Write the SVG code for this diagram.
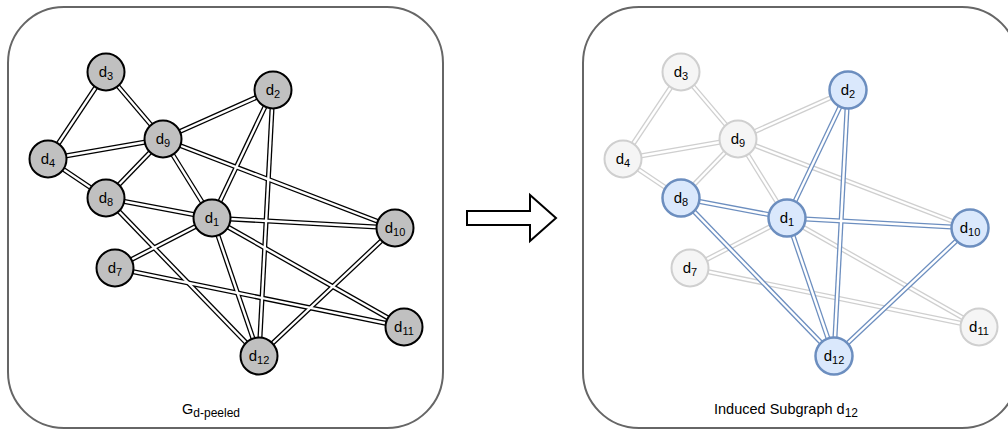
<svg xmlns="http://www.w3.org/2000/svg" width="1008" height="430" viewBox="0 0 1008 430">
<style>
.panel{fill:#fff;stroke:#666;stroke-width:2}
.eo{stroke:#000;stroke-width:5;fill:none}
.ei{stroke:#fff;stroke-width:2.4;fill:none}
.go{stroke:#cfcfcf;stroke-width:5;fill:none}
.bo{stroke:#6c8ebf;stroke-width:5;fill:none}
.nk{fill:#c0c0c0;stroke:#000;stroke-width:2}
.ng{fill:#f5f5f5;stroke:#cfcfcf;stroke-width:2}
.nb{fill:#dae8fc;stroke:#6c8ebf;stroke-width:2.5}
text{font-family:"Liberation Sans",Arial,Helvetica,sans-serif;fill:#000}
.lbl{font-size:15px;text-anchor:middle}
.sub{font-size:11px}
.cap{font-size:14.5px;text-anchor:middle}
.csub{font-size:12px}
</style>
<rect class="panel" x="8" y="7" width="435" height="421" rx="56" ry="56"/>
<rect class="panel" x="583" y="7" width="435" height="421" rx="56" ry="56"/>
<g id="connectors">
<g id="left-edges">
<g class="eo">
<line x1="106" y1="72" x2="48" y2="159"/>
<line x1="106" y1="72" x2="163" y2="139"/>
<line x1="163" y1="139" x2="273" y2="90"/>
<line x1="163" y1="139" x2="48" y2="159"/>
<line x1="163" y1="139" x2="106" y2="198"/>
<line x1="163" y1="139" x2="212" y2="218"/>
<line x1="163" y1="139" x2="395" y2="228"/>
<line x1="48" y1="159" x2="106" y2="198"/>
<line x1="273" y1="90" x2="212" y2="218"/>
<line x1="273" y1="90" x2="259" y2="356"/>
<line x1="106" y1="198" x2="212" y2="218"/>
<line x1="106" y1="198" x2="259" y2="356"/>
<line x1="212" y1="218" x2="395" y2="228"/>
<line x1="212" y1="218" x2="115" y2="268"/>
<line x1="212" y1="218" x2="259" y2="356"/>
<line x1="212" y1="218" x2="404" y2="327"/>
<line x1="115" y1="268" x2="404" y2="327"/>
<line x1="395" y1="228" x2="259" y2="356"/>
</g>
<g class="ei">
<line x1="106" y1="72" x2="48" y2="159"/>
<line x1="106" y1="72" x2="163" y2="139"/>
<line x1="163" y1="139" x2="273" y2="90"/>
<line x1="163" y1="139" x2="48" y2="159"/>
<line x1="163" y1="139" x2="106" y2="198"/>
<line x1="163" y1="139" x2="212" y2="218"/>
<line x1="163" y1="139" x2="395" y2="228"/>
<line x1="48" y1="159" x2="106" y2="198"/>
<line x1="273" y1="90" x2="212" y2="218"/>
<line x1="273" y1="90" x2="259" y2="356"/>
<line x1="106" y1="198" x2="212" y2="218"/>
<line x1="106" y1="198" x2="259" y2="356"/>
<line x1="212" y1="218" x2="395" y2="228"/>
<line x1="212" y1="218" x2="115" y2="268"/>
<line x1="212" y1="218" x2="259" y2="356"/>
<line x1="212" y1="218" x2="404" y2="327"/>
<line x1="115" y1="268" x2="404" y2="327"/>
<line x1="395" y1="228" x2="259" y2="356"/>
</g>
</g>
<g id="right-edges-gray">
<g class="go">
<line x1="681" y1="72" x2="623" y2="159"/>
<line x1="681" y1="72" x2="738" y2="139"/>
<line x1="738" y1="139" x2="848" y2="90"/>
<line x1="738" y1="139" x2="623" y2="159"/>
<line x1="738" y1="139" x2="681" y2="198"/>
<line x1="738" y1="139" x2="787" y2="218"/>
<line x1="738" y1="139" x2="970" y2="228"/>
<line x1="623" y1="159" x2="681" y2="198"/>
<line x1="787" y1="218" x2="690" y2="268"/>
<line x1="787" y1="218" x2="979" y2="327"/>
<line x1="690" y1="268" x2="979" y2="327"/>
</g>
<g class="ei">
<line x1="681" y1="72" x2="623" y2="159"/>
<line x1="681" y1="72" x2="738" y2="139"/>
<line x1="738" y1="139" x2="848" y2="90"/>
<line x1="738" y1="139" x2="623" y2="159"/>
<line x1="738" y1="139" x2="681" y2="198"/>
<line x1="738" y1="139" x2="787" y2="218"/>
<line x1="738" y1="139" x2="970" y2="228"/>
<line x1="623" y1="159" x2="681" y2="198"/>
<line x1="787" y1="218" x2="690" y2="268"/>
<line x1="787" y1="218" x2="979" y2="327"/>
<line x1="690" y1="268" x2="979" y2="327"/>
</g>
</g>
<g id="right-edges-blue">
<g class="bo">
<line x1="848" y1="90" x2="787" y2="218"/>
<line x1="848" y1="90" x2="834" y2="356"/>
<line x1="681" y1="198" x2="787" y2="218"/>
<line x1="681" y1="198" x2="834" y2="356"/>
<line x1="787" y1="218" x2="970" y2="228"/>
<line x1="787" y1="218" x2="834" y2="356"/>
<line x1="970" y1="228" x2="834" y2="356"/>
</g>
<g class="ei">
<line x1="848" y1="90" x2="787" y2="218"/>
<line x1="848" y1="90" x2="834" y2="356"/>
<line x1="681" y1="198" x2="787" y2="218"/>
<line x1="681" y1="198" x2="834" y2="356"/>
<line x1="787" y1="218" x2="970" y2="228"/>
<line x1="787" y1="218" x2="834" y2="356"/>
<line x1="970" y1="228" x2="834" y2="356"/>
</g>
</g>
</g>
<g id="left-nodes">
<g id="L-d1"><circle class="nk" cx="212" cy="218" r="18.5"/><text class="lbl" x="212" y="223">d<tspan class="sub" dy="3">1</tspan></text></g>
<g id="L-d2"><circle class="nk" cx="273" cy="90" r="18.5"/><text class="lbl" x="273" y="95">d<tspan class="sub" dy="3">2</tspan></text></g>
<g id="L-d3"><circle class="nk" cx="106" cy="72" r="18.5"/><text class="lbl" x="106" y="77">d<tspan class="sub" dy="3">3</tspan></text></g>
<g id="L-d4"><circle class="nk" cx="48" cy="159" r="18.5"/><text class="lbl" x="48" y="164">d<tspan class="sub" dy="3">4</tspan></text></g>
<g id="L-d7"><circle class="nk" cx="115" cy="268" r="18.5"/><text class="lbl" x="115" y="273">d<tspan class="sub" dy="3">7</tspan></text></g>
<g id="L-d8"><circle class="nk" cx="106" cy="198" r="18.5"/><text class="lbl" x="106" y="203">d<tspan class="sub" dy="3">8</tspan></text></g>
<g id="L-d9"><circle class="nk" cx="163" cy="139" r="18.5"/><text class="lbl" x="163" y="144">d<tspan class="sub" dy="3">9</tspan></text></g>
<g id="L-d10"><circle class="nk" cx="395" cy="228" r="18.5"/><text class="lbl" x="395" y="233">d<tspan class="sub" dy="3">10</tspan></text></g>
<g id="L-d11"><circle class="nk" cx="404" cy="327" r="18.5"/><text class="lbl" x="404" y="332">d<tspan class="sub" dy="3">11</tspan></text></g>
<g id="L-d12"><circle class="nk" cx="259" cy="356" r="18.5"/><text class="lbl" x="259" y="361">d<tspan class="sub" dy="3">12</tspan></text></g>
</g>
<g id="right-nodes">
<g id="R-d1"><circle class="nb" cx="787" cy="218" r="18.5"/><text class="lbl" x="787" y="223">d<tspan class="sub" dy="3">1</tspan></text></g>
<g id="R-d2"><circle class="nb" cx="848" cy="90" r="18.5"/><text class="lbl" x="848" y="95">d<tspan class="sub" dy="3">2</tspan></text></g>
<g id="R-d3"><circle class="ng" cx="681" cy="72" r="18.5"/><text class="lbl" x="681" y="77">d<tspan class="sub" dy="3">3</tspan></text></g>
<g id="R-d4"><circle class="ng" cx="623" cy="159" r="18.5"/><text class="lbl" x="623" y="164">d<tspan class="sub" dy="3">4</tspan></text></g>
<g id="R-d7"><circle class="ng" cx="690" cy="268" r="18.5"/><text class="lbl" x="690" y="273">d<tspan class="sub" dy="3">7</tspan></text></g>
<g id="R-d8"><circle class="nb" cx="681" cy="198" r="18.5"/><text class="lbl" x="681" y="203">d<tspan class="sub" dy="3">8</tspan></text></g>
<g id="R-d9"><circle class="ng" cx="738" cy="139" r="18.5"/><text class="lbl" x="738" y="144">d<tspan class="sub" dy="3">9</tspan></text></g>
<g id="R-d10"><circle class="nb" cx="970" cy="228" r="18.5"/><text class="lbl" x="970" y="233">d<tspan class="sub" dy="3">10</tspan></text></g>
<g id="R-d11"><circle class="ng" cx="979" cy="327" r="18.5"/><text class="lbl" x="979" y="332">d<tspan class="sub" dy="3">11</tspan></text></g>
<g id="R-d12"><circle class="nb" cx="834" cy="356" r="18.5"/><text class="lbl" x="834" y="361">d<tspan class="sub" dy="3">12</tspan></text></g>
</g>
<g id="arrow"><polygon points="467,211 530,211 530,195 556,218 530,241 530,225 467,225" fill="#fff" stroke="#000" stroke-width="2"/></g>
<text class="cap" x="211" y="414">G<tspan class="csub" dy="3">d-peeled</tspan></text>
<text class="cap" x="786" y="414">Induced Subgraph d<tspan class="csub" dy="3">12</tspan></text>
</svg>
